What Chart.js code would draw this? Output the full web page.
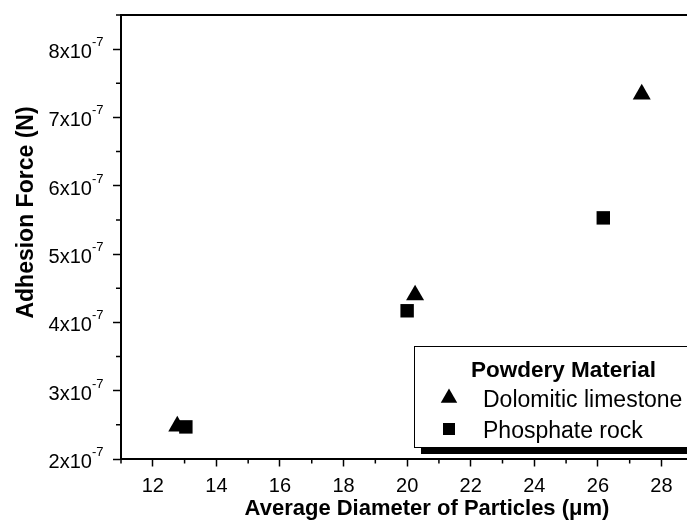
<!DOCTYPE html>
<html lang="en">
<head>
    <meta charset="UTF-8">
    <title>Adhesion Force vs Particle Diameter</title>
    <script src="https://cdn.jsdelivr.net/npm/chart.js"></script>
    <style>
        html, body {
            margin: 0;
            background: #fff;
            overflow: hidden;
        }
        canvas {
            display: block;
        }
    </style>
</head>
<body>
    <!-- the figure is cropped on the right: the canvas runs a bit past the window -->
    <canvas id="adhesionChart" width="740" height="522"></canvas>

    <script>
        // data
        const legendTitle = 'Powdery Material';
        const seriesNames = ['Dolomitic limestone', 'Phosphate rock'];
        const dolomiteDiameter = [12.77, 20.25, 27.38];
        const dolomiteForce = [2.48e-7, 4.40e-7, 7.34e-7];
        const phosphateDiameter = [13.04, 20.0, 26.17];
        const phosphateForce = [2.47e-7, 4.17e-7, 5.53e-7];

        const xMajorTicks = [12, 14, 16, 18, 20, 22, 24, 26, 28];
        const xMinorTicks = [11, 13, 15, 17, 19, 21, 23, 25, 27, 29];
        const yMajorTicks = [2e-7, 3e-7, 4e-7, 5e-7, 6e-7, 7e-7, 8e-7];
        const yTickMantissa = ['2x10', '3x10', '4x10', '5x10', '6x10', '7x10', '8x10'];
        const yTickExponent = '-7';
        const yMinorTicks = [2.5e-7, 3.5e-7, 4.5e-7, 5.5e-7, 6.5e-7, 7.5e-7, 8.5e-7];
        const yTitle = 'Adhesion Force (N)';

        const FONT = "'Liberation Sans', Arial, sans-serif";

        const pairs = (xs, ys) => xs.map((v, i) => ({ x: v, y: ys[i] }));

        // top frame line, short minor ticks, y labels with superscript, y title
        const axisExtras = {
            id: 'axisExtras',
            afterDraw(chart) {
                const { ctx, chartArea, scales } = chart;
                ctx.save();
                ctx.strokeStyle = '#000';
                ctx.lineWidth = 1.5;
                ctx.beginPath();
                xMinorTicks.forEach(v => {
                    const px = scales.x.getPixelForValue(v);
                    ctx.moveTo(px, chartArea.bottom);
                    ctx.lineTo(px, chartArea.bottom + 4.5);
                });
                yMinorTicks.forEach(v => {
                    const py = scales.y.getPixelForValue(v);
                    ctx.moveTo(chartArea.left, py);
                    ctx.lineTo(chartArea.left - 5, py);
                });
                ctx.stroke();

                ctx.lineWidth = 2;
                ctx.beginPath();
                ctx.moveTo(chartArea.left - 1, chartArea.top);
                ctx.lineTo(chartArea.right, chartArea.top);
                ctx.stroke();

                // tick labels like 8x10^-7
                ctx.fillStyle = '#000';
                ctx.textAlign = 'right';
                ctx.textBaseline = 'alphabetic';
                const labelRight = chartArea.left - 17.5;
                yMajorTicks.forEach((v, i) => {
                    const py = scales.y.getPixelForValue(v);
                    ctx.font = '13px ' + FONT;
                    const expW = ctx.measureText(yTickExponent).width;
                    ctx.fillText(yTickExponent, labelRight, py - 3);
                    ctx.font = '20px ' + FONT;
                    ctx.fillText(yTickMantissa[i], labelRight - expW, py + 9);
                });

                // rotated y title (sits a little above the middle in the original)
                ctx.translate(33, (chartArea.top + chartArea.bottom) / 2 - 24.5);
                ctx.rotate(-Math.PI / 2);
                ctx.textAlign = 'center';
                ctx.font = 'bold 23px ' + FONT;
                ctx.fillText(yTitle, 0, 0);
                ctx.restore();
            }
        };

        // boxed legend with drop shadow, lower right
        const boxLegend = {
            id: 'boxLegend',
            afterDraw(chart) {
                const { ctx, chartArea } = chart;
                const left = chartArea.right - 319;
                const width = 299;
                const top = chartArea.bottom - 113;
                const bottom = chartArea.bottom - 12;
                ctx.save();
                ctx.fillStyle = '#000';
                ctx.fillRect(left + 7, bottom, width, 7);
                ctx.fillRect(left + width, top + 7, 7, bottom - top);
                ctx.fillStyle = '#fff';
                ctx.fillRect(left, top, width, bottom - top);
                ctx.strokeStyle = '#000';
                ctx.lineWidth = 1;
                ctx.strokeRect(left + 0.5, top + 0.5, width, bottom - top);

                ctx.fillStyle = '#000';
                ctx.textBaseline = 'alphabetic';
                ctx.textAlign = 'center';
                ctx.font = 'bold 22.5px ' + FONT;
                ctx.fillText(legendTitle, left + width / 2, top + 31);

                ctx.textAlign = 'left';
                ctx.font = '23px ' + FONT;
                chart.data.datasets.forEach((ds, i) => {
                    const rowY = top + 52 + i * 31;
                    Chart.helpers.drawPoint(ctx, {
                        pointStyle: ds.pointStyle,
                        radius: ds.pointStyle === 'triangle' ? 9.5 : 8.5,
                        rotation: 0,
                        borderWidth: 0
                    }, left + 35, rowY);
                    ctx.fillText(ds.label, left + 69, rowY + 9);
                });
                ctx.restore();
            }
        };

        const ctx = document.getElementById('adhesionChart').getContext('2d');
        new Chart(ctx, {
            type: 'scatter',
            data: {
                datasets: [
                    {
                        label: seriesNames[0],
                        data: pairs(dolomiteDiameter, dolomiteForce),
                        pointStyle: 'triangle',
                        pointRadius: 10.4,
                        backgroundColor: '#000',
                        borderColor: '#000',
                        borderWidth: 0
                    },
                    {
                        label: seriesNames[1],
                        data: pairs(phosphateDiameter, phosphateForce),
                        pointStyle: 'rect',
                        pointRadius: 9.5,
                        backgroundColor: '#000',
                        borderColor: '#000',
                        borderWidth: 0
                    }
                ]
            },
            options: {
                responsive: false,
                animation: false,
                layout: {
                    autoPadding: false,
                    padding: { top: 15, right: 7, left: 0, bottom: 0 }
                },
                plugins: {
                    legend: { display: false },
                    tooltip: { enabled: false }
                },
                scales: {
                    x: {
                        type: 'linear',
                        min: 11,
                        max: 30.25,
                        afterBuildTicks: scale => { scale.ticks = xMajorTicks.map(v => ({ value: v })); },
                        afterFit: scale => {
                            scale.height = 63;
                            scale.paddingLeft = 0;
                            scale.paddingRight = 0;
                        },
                        border: { display: true, color: '#000', width: 2 },
                        grid: {
                            drawOnChartArea: false,
                            drawTicks: true,
                            tickLength: 7.5,
                            tickColor: '#000',
                            tickWidth: 1.5
                        },
                        ticks: {
                            color: '#000',
                            padding: 8,
                            maxRotation: 0,
                            autoSkip: false,
                            font: { family: FONT, size: 20 }
                        },
                        title: {
                            display: true,
                            text: 'Average Diameter of Particles (\u03bcm)',
                            color: '#000',
                            padding: { top: 0, bottom: 0 },
                            font: { family: FONT, size: 22, weight: 'bold' }
                        }
                    },
                    y: {
                        type: 'linear',
                        min: 2e-7,
                        max: 8.5e-7,
                        afterBuildTicks: scale => { scale.ticks = yMajorTicks.map(v => ({ value: v })); },
                        afterFit: scale => {
                            scale.width = 121;
                            scale.paddingTop = 0;
                            scale.paddingBottom = 0;
                        },
                        border: { display: true, color: '#000', width: 2 },
                        grid: {
                            drawOnChartArea: false,
                            drawTicks: true,
                            tickLength: 8,
                            tickColor: '#000',
                            tickWidth: 1.5
                        },
                        ticks: { display: false },
                        title: { display: false }
                    }
                }
            },
            plugins: [axisExtras, boxLegend]
        });
    </script>
</body>
</html>
